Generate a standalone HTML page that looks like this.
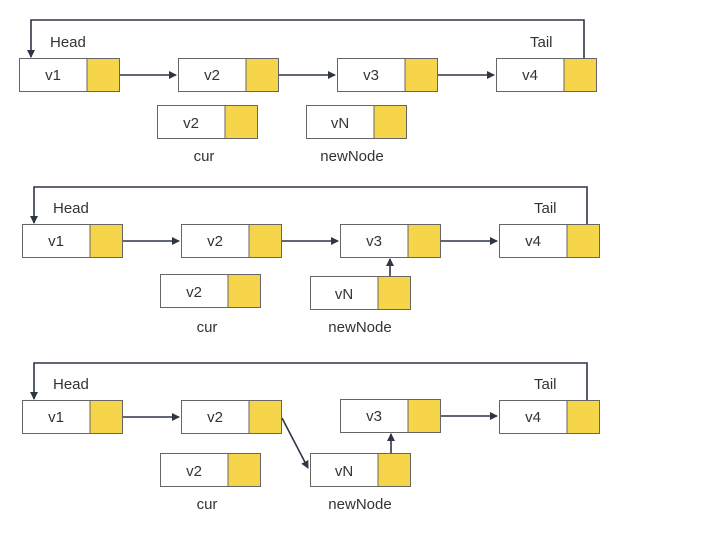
<!DOCTYPE html><html><head><style>body{margin:0;background:#fff}svg text{font-family:"Liberation Sans",sans-serif;font-size:15px;fill:#333}</style></head><body>
<svg width="718" height="530" viewBox="0 0 718 530">
<defs><marker id="a" markerWidth="8" markerHeight="8" refX="7" refY="4" orient="auto" markerUnits="userSpaceOnUse"><path d="M0,0 L8,4 L0,8 z" fill="#2f3545"/></marker>
<g id="n"><rect x="0.5" y="0.5" width="100" height="33" fill="#fff" stroke="#666"/><rect x="68" y="0.5" width="32.5" height="33" fill="#f7d54a" stroke="#666"/></g></defs>
<g stroke="#2f3545" stroke-width="1.6" fill="none">
<path d="M584,58 V20 H31 V57" marker-end="url(#a)"/>
<path d="M119,75 H176" marker-end="url(#a)"/><path d="M278,75 H335" marker-end="url(#a)"/><path d="M437,75 H494" marker-end="url(#a)"/>
<path d="M587,224 V187 H34 V223" marker-end="url(#a)"/>
<path d="M122,241 H179" marker-end="url(#a)"/><path d="M281,241 H338" marker-end="url(#a)"/><path d="M440,241 H497" marker-end="url(#a)"/>
<path d="M390,276 V259" marker-end="url(#a)"/>
<path d="M587,400 V363 H34 V399" marker-end="url(#a)"/>
<path d="M122,417 H179" marker-end="url(#a)"/><path d="M440,416 H497" marker-end="url(#a)"/>
<path d="M282,418 L308,468" marker-end="url(#a)"/>
<path d="M391,453 V434" marker-end="url(#a)"/>
</g>
<use href="#n" x="19" y="58"/><use href="#n" x="178" y="58"/><use href="#n" x="337" y="58"/><use href="#n" x="496" y="58"/>
<use href="#n" x="157" y="105"/><use href="#n" x="306" y="105"/>
<use href="#n" x="22" y="224"/><use href="#n" x="181" y="224"/><use href="#n" x="340" y="224"/><use href="#n" x="499" y="224"/>
<use href="#n" x="160" y="274"/><use href="#n" x="310" y="276"/>
<use href="#n" x="22" y="400"/><use href="#n" x="181" y="400"/><use href="#n" x="340" y="399"/><use href="#n" x="499" y="400"/>
<use href="#n" x="160" y="453"/><use href="#n" x="310" y="453"/>
<g text-anchor="middle">
<text x="53" y="80">v1</text><text x="212" y="80">v2</text><text x="371" y="80">v3</text><text x="530" y="80">v4</text>
<text x="191" y="128">v2</text><text x="340" y="128">vN</text><text x="204" y="161">cur</text><text x="352" y="161">newNode</text>
<text x="56" y="246">v1</text><text x="215" y="246">v2</text><text x="374" y="246">v3</text><text x="533" y="246">v4</text>
<text x="194" y="297">v2</text><text x="344" y="299">vN</text><text x="207" y="332">cur</text><text x="360" y="332">newNode</text>
<text x="56" y="422">v1</text><text x="215" y="422">v2</text><text x="374" y="421">v3</text><text x="533" y="422">v4</text>
<text x="194" y="476">v2</text><text x="344" y="476">vN</text><text x="207" y="509">cur</text><text x="360" y="509">newNode</text>
</g>
<text x="50" y="47">Head</text><text x="530" y="47">Tail</text>
<text x="53" y="213">Head</text><text x="534" y="213">Tail</text>
<text x="53" y="389">Head</text><text x="534" y="389">Tail</text>
</svg></body></html>
